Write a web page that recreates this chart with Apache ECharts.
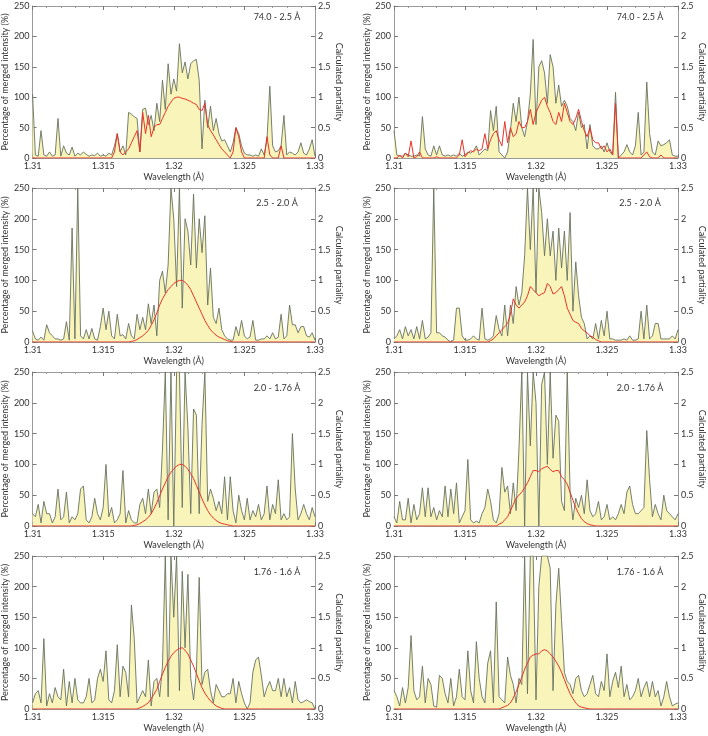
<!DOCTYPE html>
<html><head><meta charset="utf-8">
<script src="https://cdn.jsdelivr.net/npm/echarts@6/dist/echarts.min.js"></script>
<style>html,body{margin:0;padding:0;background:#fff}#c{width:708px;height:736px}</style>
</head><body><div id="c"></div>
<script>
// sampled wavelengths (Å), one sample every 0.0002 Å between 1.31 and 1.33
const wavelengths = Array.from({length:101}, (_, i) => +(1.31 + i * 0.0002).toFixed(4));
const xTicks = [1.31, 1.315, 1.32, 1.325, 1.33];
const rangeLabels = ['74.0 - 2.5 Å', '74.0 - 2.5 Å', '2.5 - 2.0 Å', '2.5 - 2.0 Å', '2.0 - 1.76 Å', '2.0 - 1.76 Å', '1.76 - 1.6 Å', '1.76 - 1.6 Å'];

// Percentage of merged intensity (%)
const intensityL1 = [105,5,3,45,5,3,10,3,5,65, 3,20,8,5,18,3,8,5,10,6, 3,5,4,8,3,5,3,8,5,20, 40,10,20,5,75,72,68,65,10,80, 82,55,70,45,90,60,128,80,155,105, 130,110,188,140,158,130,155,160,162,128, 15,95,50,85,45,65,40,28,30,20, 10,25,50,40,20,8,5,5,3,5, 3,15,5,30,118,20,10,12,20,70, 5,10,8,5,10,25,8,5,15,30, 3];
const intensityR1 = [45,5,3,3,8,5,3,3,5,3, 68,15,5,3,20,5,20,5,3,5, 3,5,3,8,3,5,10,8,12,20, 5,10,15,12,78,45,85,10,5,0, 10,45,90,60,100,50,35,60,105,195, 55,150,160,140,90,170,150,90,120,85, 95,85,65,60,45,75,50,55,15,55, 20,15,15,20,10,25,10,5,108,0, 5,10,22,10,5,20,75,5,10,125, 40,10,5,28,20,22,25,30,5,3, 3];
const intensityL2 = [18,5,3,8,3,28,15,10,5,5, 3,5,33,3,185,5,250,10,5,20, 5,22,5,3,25,55,20,50,10,5, 45,10,12,5,30,10,5,45,20,40, 20,62,30,60,10,100,115,80,125,250, 200,90,250,55,200,180,125,240,120,200, 145,205,60,120,40,30,55,20,10,5, 3,3,25,10,35,10,5,8,35,3, 3,5,5,10,5,15,5,8,45,5, 10,60,28,28,15,25,25,10,8,15, 3];
const intensityR2 = [5,10,20,5,25,10,20,5,25,5, 35,5,8,15,250,15,15,10,8,3, 0,3,55,55,10,3,3,5,10,5, 3,55,5,3,5,10,43,20,10,60, 10,60,30,90,60,80,140,250,150,250, 80,250,210,140,200,140,180,100,185,120, 180,100,210,50,130,75,40,30,5,10, 5,30,5,35,10,50,5,5,3,3, 3,5,3,10,3,3,5,50,5,60, 5,10,30,30,5,5,5,5,10,5, 20];
const intensityL3 = [20,15,35,5,40,20,20,5,15,60, 10,15,55,5,15,10,20,60,65,10, 5,15,45,20,10,30,100,15,30,5, 10,20,90,5,25,10,5,5,35,45, 20,60,20,55,60,30,125,250,10,250, 0,250,250,30,250,160,20,190,180,20, 165,250,40,60,45,25,40,20,80,10, 80,25,5,50,25,10,45,10,25,15, 35,10,20,65,10,35,20,75,10,20, 10,15,150,60,10,20,35,20,10,30, 15];
const intensityR3 = [15,5,40,10,10,45,5,35,10,20, 62,15,62,15,30,10,25,15,65,15, 60,20,70,5,15,25,108,10,5,8, 5,20,30,60,40,10,5,20,95,55, 65,20,70,25,125,250,0,250,130,250, 200,0,230,250,100,250,110,180,170,40, 25,250,55,10,45,30,50,20,75,25, 15,20,40,10,15,35,10,15,10,20, 35,20,55,65,35,20,20,25,30,155, 75,15,35,20,10,50,25,20,15,10, 20];
const intensityL4 = [10,25,30,10,115,5,25,10,35,20, 15,65,5,45,10,50,15,10,10,20, 50,10,15,50,65,45,95,15,10,30, 105,20,70,60,20,170,115,10,20,30, 20,80,5,45,50,20,70,250,20,250, 150,250,30,225,100,220,50,15,60,215, 40,60,65,30,10,40,30,20,20,25, 25,50,10,45,25,10,0,10,60,80, 85,55,20,35,45,30,30,50,20,50, 20,35,10,45,15,10,12,15,12,10, 0];
const intensityR4 = [30,20,5,35,10,35,120,30,15,20, 70,10,50,40,5,3,55,50,25,10, 50,5,20,65,20,15,95,30,10,110, 50,20,10,75,95,10,175,20,15,10, 85,55,40,10,50,40,250,25,250,250, 15,200,250,250,250,230,30,170,230,145, 60,45,40,25,50,55,30,20,25,40, 55,25,20,45,30,90,20,45,60,35, 70,20,40,15,20,30,50,20,35,45, 20,45,20,30,5,20,45,20,5,8, 10];

// Calculated partiality
const partialityL1 = [0,0,0,0,0,0,0,0,0,0, 0,0,0,0,0,0,0,0,0,0, 0,0,0,0,0,0,0,0,0,0.1, 0.4,0.1,0.05,0.1,0.15,0.25,0.35,0.45,0.1,0.75, 0.4,0.7,0.35,0.5,0.55,0.55,0.65,0.75,0.85,0.92, 0.98,1,1,0.98,0.97,0.95,0.93,0.9,0.88,0.8, 0.78,0.9,0.55,0.45,0.38,0.3,0.22,0.15,0.1,0.05, 0,0.1,0.5,0.35,0.1,0,0,0,0,0, 0,0,0,0.35,0.05,0,0,0,0.2,0, 0,0,0,0,0,0,0,0,0,0, 0];
const partialityR1 = [0,0,0.05,0,0.08,0.02,0.28,0,0.02,0.1, 0,0,0,0,0,0.02,0,0,0,0, 0,0,0,0.05,0.3,0.02,0.08,0.12,0.1,0.15, 0.12,0.15,0.4,0.15,0.3,0.4,0.45,0.3,0.2,0.6, 0.25,0.5,0.35,0.4,0.6,0.5,0.5,0.6,0.8,0.55, 0.75,0.85,0.95,1,0.85,0.75,0.6,0.55,0.75,0.6, 0.9,0.75,0.6,0.55,0.65,0.8,0.6,0.45,0.35,0.5, 0.3,0.25,0.25,0.15,0.2,0.1,0.15,0.05,0.9,0, 0,0,0,0,0,0,0,0,0.05,0.1, 0.02,0,0,0,0.05,0,0,0,0,0, 0];
const partialityL2 = [0,0,0,0,0,0,0,0,0,0, 0,0,0,0,0,0,0,0,0,0, 0,0,0,0,0,0,0,0,0,0, 0,0,0,0,0,0.01,0.02,0.04,0.07,0.1, 0.14,0.19,0.27,0.36,0.47,0.6,0.7,0.78,0.85,0.9, 0.95,0.98,1,1,0.97,0.92,0.85,0.75,0.65,0.55, 0.45,0.35,0.27,0.2,0.15,0.11,0.08,0.06,0.04,0.02, 0.01,0,0,0,0,0,0,0,0,0, 0,0,0,0,0,0,0,0,0,0, 0,0,0,0,0,0,0,0,0,0, 0];
const partialityR2 = [0,0,0,0,0,0,0,0,0,0, 0,0,0,0,0,0,0,0,0,0, 0,0,0,0,0,0,0,0,0,0, 0,0,0,0,0.02,0.05,0.1,0.15,0.2,0.25, 0.3,0.45,0.7,0.6,0.55,0.6,0.65,0.75,0.9,0.85, 0.8,0.75,0.78,0.8,0.95,0.9,0.78,0.8,0.85,0.9, 0.75,0.55,0.45,0.35,0.32,0.3,0.22,0.18,0.15,0.1, 0.08,0.04,0.02,0,0,0,0,0,0,0, 0,0,0,0,0,0,0,0,0,0, 0,0,0,0,0,0,0,0,0,0, 0];
const partialityL3 = [0,0,0,0,0,0,0,0,0,0, 0,0,0,0,0,0,0,0,0,0, 0,0,0,0,0,0,0,0,0,0, 0,0,0,0,0,0,0.01,0.02,0.04,0.07, 0.1,0.14,0.2,0.28,0.38,0.49,0.6,0.7,0.8,0.87, 0.93,0.97,1,1,0.97,0.92,0.85,0.77,0.66,0.55, 0.44,0.34,0.25,0.18,0.13,0.09,0.06,0.04,0.03,0.02, 0.01,0,0,0,0,0,0,0,0,0, 0,0,0,0,0,0,0,0,0,0, 0,0,0,0,0,0,0,0,0,0, 0];
const partialityR3 = [0,0,0,0,0,0,0,0,0,0, 0,0,0,0,0,0,0,0,0,0, 0,0,0,0,0,0,0,0,0,0, 0,0,0,0,0,0,0,0.03,0.05,0.1, 0.15,0.25,0.35,0.45,0.5,0.55,0.62,0.7,0.8,0.9, 0.9,0.88,0.93,0.95,0.97,0.92,0.88,0.9,0.9,0.8, 0.75,0.68,0.55,0.42,0.3,0.2,0.12,0.07,0.04,0.02, 0.01,0,0,0,0,0,0,0,0,0, 0,0,0,0,0,0,0,0,0,0, 0,0,0,0,0,0,0,0,0,0, 0];
const partialityL4 = [0,0,0,0,0,0,0,0,0,0, 0,0,0,0,0,0,0,0,0,0, 0,0,0,0,0,0,0,0,0,0, 0,0,0,0,0,0,0,0,0.02,0.04, 0.07,0.1,0.17,0.24,0.32,0.45,0.57,0.68,0.78,0.86, 0.92,0.96,0.99,1,0.96,0.9,0.8,0.7,0.58,0.46, 0.35,0.26,0.19,0.13,0.09,0.05,0.03,0.01,0,0, 0,0,0,0,0,0,0,0,0,0, 0,0,0,0,0,0,0,0,0,0, 0,0,0,0,0,0,0,0,0,0, 0];
const partialityR4 = [0,0,0,0,0,0,0,0,0,0, 0,0,0,0,0,0,0,0,0,0, 0,0,0,0,0,0,0,0,0,0, 0,0,0,0,0,0,0,0,0.02,0.04, 0.06,0.1,0.18,0.28,0.4,0.52,0.65,0.75,0.85,0.88, 0.9,0.9,0.95,0.97,0.95,0.9,0.85,0.78,0.7,0.6, 0.48,0.36,0.25,0.17,0.1,0.05,0.03,0.02,0.01,0, 0,0,0,0,0,0,0,0,0,0, 0,0,0,0,0,0,0,0,0,0, 0,0,0,0,0,0,0,0,0,0, 0];

const intensities = [intensityL1, intensityR1, intensityL2, intensityR2, intensityL3, intensityR3, intensityL4, intensityR4];
const partialities = [partialityL1, partialityR1, partialityL2, partialityR2, partialityL3, partialityR3, partialityL4, partialityR4];

// layout
const cols = [{left: 30, width: 285, yNameGap: 19, y2NameGap: 14}, {left: 394, width: 284, yNameGap: 21, y2NameGap: 18}];
const rows = [{top: 6, height: 152, lab: 11}, {top: 188, height: 154, lab: 15}, {top: 372, height: 154, lab: 16}, {top: 556, height: 153, lab: 16}];
const FONT = 'Lato, "Noto Sans", sans-serif';
const txt = '#333';
const axisCol = '#9a9a9a';

const grids = [], xAxes = [], yAxes = [], series = [], graphics = [];
for (let p = 0; p < 8; p++) {
  const c = cols[p % 2], r = rows[Math.floor(p / 2)];
  grids.push({left: c.left, top: r.top, width: c.width, height: r.height, show: false});
  const common = {type: 'value', gridIndex: p, min: 1.31, max: 1.33, interval: 0.005,
    axisLine: {onZero: false, lineStyle: {color: axisCol, width: 1}},
    axisTick: {inside: true, length: 4, lineStyle: {color: '#777'}},
    minorTick: {show: true, splitNumber: 5, length: 2, lineStyle: {color: '#999'}},
    splitLine: {show: false}};
  xAxes.push(Object.assign({}, common, {position: 'bottom', name: 'Wavelength (Å)', nameLocation: 'middle', nameGap: 15,
    nameTextStyle: {fontSize: 9, color: txt, fontFamily: FONT},
    axisLabel: {fontSize: 9, color: txt, fontFamily: FONT, margin: 4,
      formatter: v => String(+v.toFixed(3))}}));
  xAxes.push(Object.assign({}, common, {position: 'top', axisLabel: {show: false}}));
  yAxes.push({type: 'value', gridIndex: p, min: 0, max: 250, interval: 50, position: 'left',
    name: 'Percentage of merged intensity (%)', nameLocation: 'middle', nameGap: c.yNameGap,
    nameTextStyle: {fontSize: 9, color: txt, fontFamily: FONT},
    axisLine: {show: true, lineStyle: {color: axisCol}},
    axisTick: {show: true, inside: true, length: 4, lineStyle: {color: '#777'}},
    axisLabel: {fontSize: 9, color: txt, fontFamily: FONT, margin: 3},
    splitLine: {show: false}});
  yAxes.push({type: 'value', gridIndex: p, min: 0, max: 2.5, interval: 0.5, position: 'right',
    name: 'Calculated partiality', nameLocation: 'middle', nameRotate: -90, nameGap: c.y2NameGap,
    nameTextStyle: {fontSize: 9, color: txt, fontFamily: FONT},
    axisLine: {show: true, lineStyle: {color: axisCol}},
    axisTick: {show: true, inside: true, length: 4, lineStyle: {color: '#777'}},
    axisLabel: {fontSize: 9, color: txt, fontFamily: FONT, margin: 3},
    splitLine: {show: false}});
  series.push({type: 'line', xAxisIndex: 2 * p, yAxisIndex: 2 * p, showSymbol: false, symbol: 'none',
    data: wavelengths.map((w, i) => [w, intensities[p][i]]),
    lineStyle: {color: '#66725f', width: 0.9},
    areaStyle: {color: '#f9f4b9', opacity: 1}, z: 2});
  series.push({type: 'line', xAxisIndex: 2 * p, yAxisIndex: 2 * p + 1, showSymbol: false, symbol: 'none',
    data: wavelengths.map((w, i) => [w, partialities[p][i]]),
    lineStyle: {color: '#e8332a', width: 1}, z: 3});
  graphics.push({type: 'text', x: c.left + c.width - 38, y: r.top + r.lab, z: 10,
    style: {text: rangeLabels[p], fill: txt, font: '9px ' + FONT, align: 'center', verticalAlign: 'middle'}});
}

const chart = echarts.init(document.getElementById('c'), null, {renderer: 'canvas'});
chart.setOption({animation: false, backgroundColor: '#fff', grid: grids, xAxis: xAxes, yAxis: yAxes, series: series, graphic: graphics});
</script></body></html>
